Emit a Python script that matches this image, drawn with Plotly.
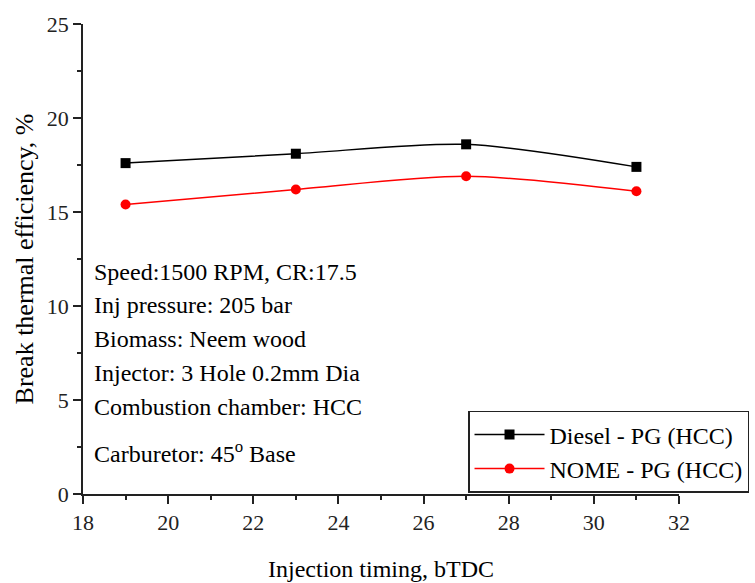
import plotly.graph_objects as go

timing = [19, 23, 27, 31]
diesel_pg = [17.6, 18.1, 18.6, 17.4]
nome_pg = [15.4, 16.2, 16.9, 16.1]
series_names = ["Diesel - PG (HCC)", "NOME - PG (HCC)"]
notes = [
    "Speed:1500 RPM, CR:17.5",
    "Inj pressure: 205 bar",
    "Biomass: Neem wood",
    "Injector: 3 Hole 0.2mm Dia",
    "Combustion chamber: HCC",
    "Carburetor: 45<sup>o</sup> Base",
]
note_y = [11.8, 10.05, 8.25, 6.45, 4.65, 2.25]

FONT = "Liberation Serif"

fig = go.Figure()
fig.add_trace(go.Scatter(
    x=timing, y=diesel_pg, name=series_names[0], mode="lines+markers",
    line=dict(color="black", width=1.5, shape="spline", smoothing=0.8),
    marker=dict(symbol="square", size=10, color="black"),
))
fig.add_trace(go.Scatter(
    x=timing, y=nome_pg, name=series_names[1], mode="lines+markers",
    line=dict(color="red", width=1.5, shape="spline", smoothing=0.8),
    marker=dict(symbol="circle", size=10, color="red"),
))

for t, yv in zip(notes, note_y):
    fig.add_annotation(x=0.015, xref="paper", y=yv, yref="y", text=t,
                       showarrow=False, xanchor="left", yanchor="middle",
                       font=dict(family=FONT, size=24, color="black"))

axis_common = dict(
    showline=True, linecolor="#222", linewidth=1.5,
    ticks="outside", ticklen=8, tickwidth=1.5, tickcolor="#222",
    showgrid=False, zeroline=False,
    tickfont=dict(family=FONT, size=22, color="#222"),
    mirror=False,
)

fig.update_xaxes(
    range=[18, 32], tickvals=[18, 20, 22, 24, 26, 28, 30, 32],
    minor=dict(ticks="outside", ticklen=4, tickwidth=1.5, tickcolor="#222", dtick=1, tick0=18),
    title=dict(text="Injection timing, bTDC", font=dict(family=FONT, size=24, color="black"), standoff=26),
    **axis_common,
)
fig.update_yaxes(
    range=[0, 25], tickvals=[0, 5, 10, 15, 20, 25],
    minor=dict(ticks="outside", ticklen=4, tickwidth=1.5, tickcolor="#222", dtick=2.5, tick0=0),
    title=dict(text="Break thermal efficiency, %", font=dict(family=FONT, size=26, color="black"), standoff=6),
    **axis_common,
)

fig.update_layout(
    width=755, height=583,
    margin=dict(l=83, r=76, t=24, b=89, autoexpand=False),
    paper_bgcolor="white", plot_bgcolor="white",
    showlegend=True,
    legend=dict(
        x=0.646, y=0.177, xanchor="left", yanchor="top",
        bordercolor="#222", borderwidth=1.5, bgcolor="white",
        font=dict(family=FONT, size=24, color="black"),
        tracegroupgap=0, itemwidth=70,
    ),
)

fig.write_html("out.html")
